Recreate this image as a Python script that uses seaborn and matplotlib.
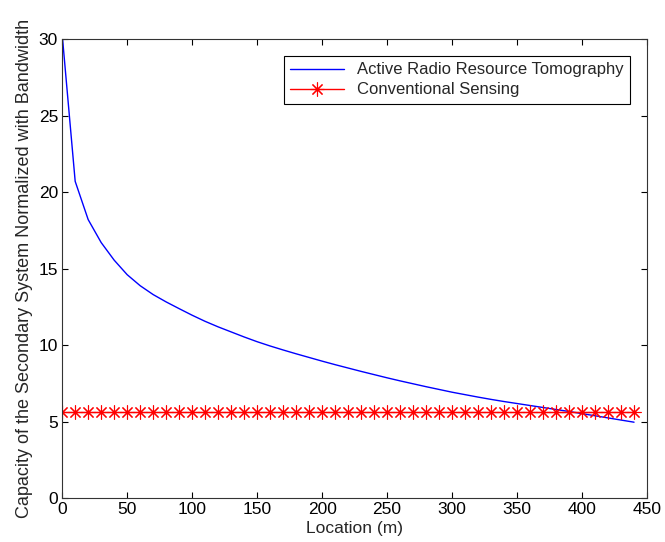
import numpy as np
import pandas as pd
import matplotlib
matplotlib.use("Agg")
import matplotlib.pyplot as plt
import seaborn as sns

# Locations (m), every 10 m
location = list(range(0, 450, 10))

# Capacity normalized with bandwidth - Active Radio Resource Tomography
capacity_tomography = [
    30.3, 20.7, 18.2, 16.7, 15.55, 14.6, 13.88, 13.3, 12.82, 12.38,
    11.95, 11.55, 11.19, 10.86, 10.53, 10.22, 9.94, 9.68, 9.43, 9.19,
    8.95, 8.72, 8.50, 8.28, 8.07, 7.86, 7.66, 7.47, 7.28, 7.10,
    6.92, 6.76, 6.60, 6.45, 6.31, 6.18, 6.05, 5.92, 5.79, 5.66,
    5.52, 5.38, 5.24, 5.10, 4.96,
]

# Conventional sensing (constant)
capacity_conventional = [5.6] * len(location)

df = pd.DataFrame({
    "Location": location,
    "Tomography": capacity_tomography,
    "Conventional": capacity_conventional,
})

sns.set_style("ticks")
plt.rcParams["font.family"] = ["Liberation Sans", "DejaVu Sans"]

fig, ax = plt.subplots(figsize=(6.65, 5.42), dpi=100)
fig.subplots_adjust(left=0.0935, right=0.973, bottom=0.081, top=0.928)

sns.lineplot(data=df, x="Location", y="Tomography", ax=ax, color="#0000ff",
             linewidth=1.0, label="Active Radio Resource Tomography")
sns.lineplot(data=df, x="Location", y="Conventional", ax=ax, color="#ff0000",
             linewidth=1.0, marker=(8, 2, 0), markersize=10, markeredgewidth=0.8,
             markeredgecolor="#ff0000", label="Conventional Sensing")

ax.set_xlim(0, 450)
ax.set_ylim(0, 30)
ax.set_xticks(np.arange(0, 451, 50))
ax.set_yticks(np.arange(0, 31, 5))
ax.tick_params(direction="in", top=True, right=True, length=4, width=0.8,
               labelsize=12.5, pad=3, colors="black")
for s in ax.spines.values():
    s.set_color("#333333")
    s.set_linewidth(0.8)

ax.set_xlabel("Location (m)", fontsize=12.5, labelpad=3)
ax.set_ylabel("Capacity of the Secondary System Normalized with Bandwidth",
              fontsize=13, labelpad=4)

leg = ax.legend(loc="upper right", fontsize=12, frameon=True, fancybox=False,
                edgecolor="black", framealpha=1, handlelength=3.2,
                borderaxespad=1.0, labelspacing=0.3, borderpad=0.4)
leg.get_frame().set_linewidth(0.8)

fig.savefig("out.png", dpi=100, facecolor="white")
